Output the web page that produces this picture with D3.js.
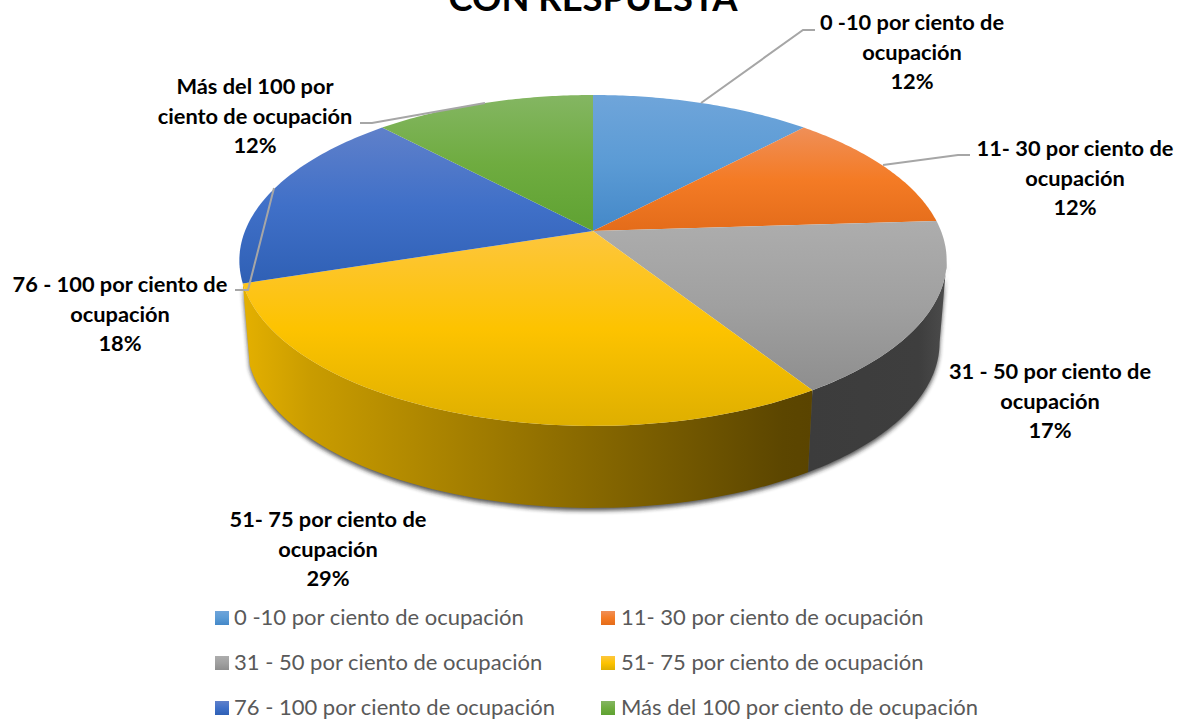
<!DOCTYPE html>
<html lang="en">
<head>
  <meta charset="UTF-8">
  <title>Con respuesta</title>
  <script src="https://d3js.org/d3.v7.min.js"></script>
  <style>
    html, body { margin: 0; padding: 0; background: #fff; overflow: hidden; }
    svg { display: block; }
    text { font-family: Lato, "Open Sans", sans-serif; }
    .label { font-weight: 700; font-size: 21.8px; fill: #000; text-anchor: middle; }
    .legend { font-size: 22px; fill: #595959; }
    .title { font-weight: 700; font-size: 36.4px; fill: #000; text-anchor: middle; }
    .leader { fill: none; stroke: #a6a6a6; stroke-width: 2px; }
  </style>
</head>
<body>
<div id="chart"></div>
<script>
var categories = ["0 -10 por ciento de ocupación", "11- 30 por ciento de ocupación", "31 - 50 por ciento de ocupación", "51- 75 por ciento de ocupación", "76 - 100 por ciento de ocupación", "Más del 100 por ciento de ocupación"];
var values = [12, 12, 17, 29, 18, 12];
var labelLines = [
  ["0 -10 por ciento de", "ocupación"],
  ["11- 30 por ciento de", "ocupación"],
  ["31 - 50 por ciento de", "ocupación"],
  ["51- 75 por ciento de", "ocupación"],
  ["76 - 100 por ciento de", "ocupación"],
  ["Más del 100 por", "ciento de ocupación"]
];

// light, base, dark per slice
var shades = [
  ["#6fa5da", "#5b9bd5", "#4488c8"],
  ["#ef8f58", "#f47b25", "#e46c1a"],
  ["#adadad", "#a0a0a0", "#8e8e8e"],
  ["#fdc63e", "#fdc300", "#deaf00"],
  ["#5f80ca", "#4070c8", "#2f60b5"],
  ["#84b662", "#6fac40", "#5fa232"]
];

// layout of the label blocks (centre x, centre y of the first line)
var labelPos = [[912, 22], [1075, 148], [1050, 371], [328, 519], [120, 284], [255, 86]];
var leaders = [
  [[701, 103], [803, 30], [815, 30]],
  [[883, 165], [958, 155], [970, 155]],
  [[274, 188], [248, 290], [235, 290]],
  [[485, 103], [372, 123], [360, 123]]
];

var width = 1182;
var height = 722;

var svg = d3.select("#chart")
  .append("svg")
  .attr("width", width)
  .attr("height", height);

var defs = svg.append("defs");

// perspective view of the unit disc: apex at (593,231), rim from y=95 to y=426
var cx = 593, apexY = 231, persp = -0.178, yScale = 119.1, xScale = 348;
var depth = 82, bottomShrink = 0.98;

function project(angle, r, lower) {
  var u = r * Math.sin(angle);
  var v = -r * Math.cos(angle);
  var w = 1 + persp * v;
  var k = lower ? xScale * bottomShrink : xScale;
  return [cx + k * u / w, (apexY + yScale * v) / w + (lower ? depth : 0)];
}

var line = d3.line();

function rim(a0, a1, lower) {
  return d3.range(0, 61).map(function(i) {
    return project(a0 + (a1 - a0) * i / 60, 1, lower);
  });
}

var pie = d3.pie().sort(null).value(function(d) { return d; });
var arcs = pie(values);

shades.forEach(function(s, i) {
  var g = defs.append("linearGradient")
    .attr("id", "top" + i)
    .attr("x1", 0).attr("y1", 0).attr("x2", 0).attr("y2", 1);
  g.selectAll("stop")
    .data(s)
    .enter().append("stop")
    .attr("offset", function(d, j) { return j / 2; })
    .attr("stop-color", function(d) { return d; });
});

var wallGold = defs.append("linearGradient").attr("id", "wallGold");
wallGold.append("stop").attr("offset", 0).attr("stop-color", "#e4b000");
wallGold.append("stop").attr("offset", 0.12).attr("stop-color", "#c99c00");
wallGold.append("stop").attr("offset", 0.55).attr("stop-color", "#8f6e00");
wallGold.append("stop").attr("offset", 0.95).attr("stop-color", "#5c4600");
wallGold.append("stop").attr("offset", 1).attr("stop-color", "#5a4400");

var wallGrey = defs.append("linearGradient").attr("id", "wallGrey");
wallGrey.append("stop").attr("offset", 0).attr("stop-color", "#3c3c3c");
wallGrey.append("stop").attr("offset", 0.8).attr("stop-color", "#3e3e3e");
wallGrey.append("stop").attr("offset", 1).attr("stop-color", "#4c4c4c");

defs.append("filter")
  .attr("id", "soft")
  .attr("x", "-5%").attr("y", "-5%").attr("width", "110%").attr("height", "110%")
  .append("feGaussianBlur")
  .attr("stdDeviation", 2);

// the visible side runs between the rim's outermost points
var sideRight = Math.PI / 2 + Math.asin(-persp);
var goldEnd = arcs[3].endAngle;

function wallPath(a0, a1) {
  return line(rim(a0, a1, false).concat(rim(a0, a1, true).reverse())) + "Z";
}

svg.append("path")
  .attr("d", wallPath(sideRight, goldEnd))
  .attr("transform", "translate(0,3)")
  .attr("fill", "#222")
  .attr("opacity", 0.75)
  .attr("filter", "url(#soft)");

svg.append("path")
  .attr("d", wallPath(sideRight, arcs[2].endAngle))
  .attr("fill", "url(#wallGrey)");

svg.append("path")
  .attr("d", wallPath(arcs[3].startAngle, goldEnd))
  .attr("fill", "url(#wallGold)");

svg.selectAll(".slice")
  .data(arcs)
  .enter().append("path")
  .attr("class", "slice")
  .attr("d", function(d) {
    return line([[cx, apexY]].concat(rim(d.startAngle, d.endAngle, false))) + "Z";
  })
  .attr("fill", function(d, i) { return "url(#top" + i + ")"; });

svg.selectAll(".leader")
  .data(leaders)
  .enter().append("path")
  .attr("class", "leader")
  .attr("d", line);

// the title's upper part runs off the page in the original
svg.append("text")
  .attr("class", "title")
  .attr("x", 593)
  .attr("y", 11)
  .text("CON RESPUESTA");

labelLines.forEach(function(lines, i) {
  var rows = lines.concat([values[i] + "%"]);
  svg.append("g")
    .selectAll("text")
    .data(rows)
    .enter().append("text")
    .attr("class", "label")
    .attr("x", labelPos[i][0])
    .attr("y", function(d, j) { return labelPos[i][1] + 8 + j * 29.6; })
    .text(function(d) { return d; });
});

// legend, two columns
var legendX = d3.scalePoint().domain([0, 1]).range([215, 601]);
var legendY = d3.scalePoint().domain([0, 1, 2]).range([618, 708]);

var legend = svg.selectAll(".legendItem")
  .data(categories)
  .enter().append("g")
  .attr("class", "legendItem")
  .attr("transform", function(d, i) {
    return "translate(" + legendX(i % 2) + "," + legendY(Math.floor(i / 2)) + ")";
  });

legend.append("rect")
  .attr("x", 0)
  .attr("y", -7)
  .attr("width", 14)
  .attr("height", 14)
  .attr("fill", function(d, i) { return "url(#top" + i + ")"; });

legend.append("text")
  .attr("class", "legend")
  .attr("x", function(d, i) { return i % 2 ? 20 : 19; })
  .attr("y", 7)
  .text(function(d) { return d; });
</script>
</body>
</html>
